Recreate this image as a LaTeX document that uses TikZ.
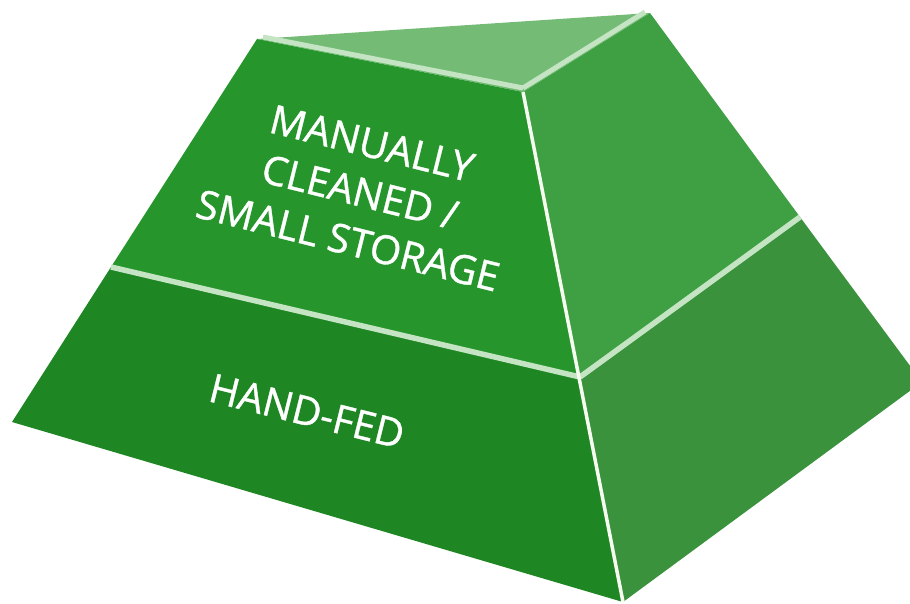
\documentclass[tikz,border=0pt]{standalone}
\usepackage{fontspec}
\setmainfont{Open Sans}
\newfontfamily\labelfont{Open Sans}[FakeBold=0.9]
\definecolor{frontup}{RGB}{38,150,44}
\definecolor{frontlow}{RGB}{30,134,35}
\definecolor{rightup}{RGB}{63,160,67}
\definecolor{rightlow}{RGB}{58,146,61}
\definecolor{topface}{RGB}{116,188,118}
\definecolor{strip}{RGB}{196,228,196}
\definecolor{edgewhite}{RGB}{246,252,240}
\tikzset{
  face/.style={draw=none},
  stripline/.style={draw=strip, line width=5pt, line cap=butt},
  label/.style={text=white, font=\labelfont\fontsize{40}{50}\selectfont, align=center, rotate=-14, inner sep=0pt}
}
\begin{document}
\begin{tikzpicture}[x=1pt,y=-1pt]
\useasboundingbox (0,0) rectangle (910,603);
\clip (0,0) rectangle (910,603);
% corner points
\coordinate (A) at (257,39);
\coordinate (B) at (523,92);
\coordinate (C) at (650,13);
\coordinate (D) at (12,422);
\coordinate (E) at (623,602);
\coordinate (F) at (922,382);
\coordinate (P) at (111,267);
\coordinate (Q) at (580,377);
\coordinate (R) at (800,217);
% faces
\fill[face, topface] (A) -- (C) -- (B) -- cycle;
\fill[face, frontup] (A) -- (B) -- (Q) -- (P) -- cycle;
\fill[face, frontlow] (P) -- (Q) -- (E) -- (D) -- cycle;
\fill[face, rightup] (B) -- (C) -- (R) -- (Q) -- cycle;
\fill[face, rightlow] (Q) -- (R) -- (F) -- (E) -- cycle;
% top edge strips
\coordinate (A1) at (263,37);
\coordinate (B1) at (523,88);
\coordinate (C1) at (645,12);
\draw[stripline] (A1) -- (B1);
\draw[stripline] (B1) -- (C1);
% dividers
\draw[stripline, line width=5.5pt] (P) -- (Q);
\draw[stripline, line width=5.5pt] (Q) -- (R);
% front-right edge
\draw[draw=edgewhite, line width=3.5pt] (B) -- (E);
% labels
\node[label] (upper) at (360,192) {MANUALLY\\CLEANED /\\SMALL STORAGE};
\node[label] (lower) at (307,411) {HAND-FED};
\end{tikzpicture}
\end{document}
